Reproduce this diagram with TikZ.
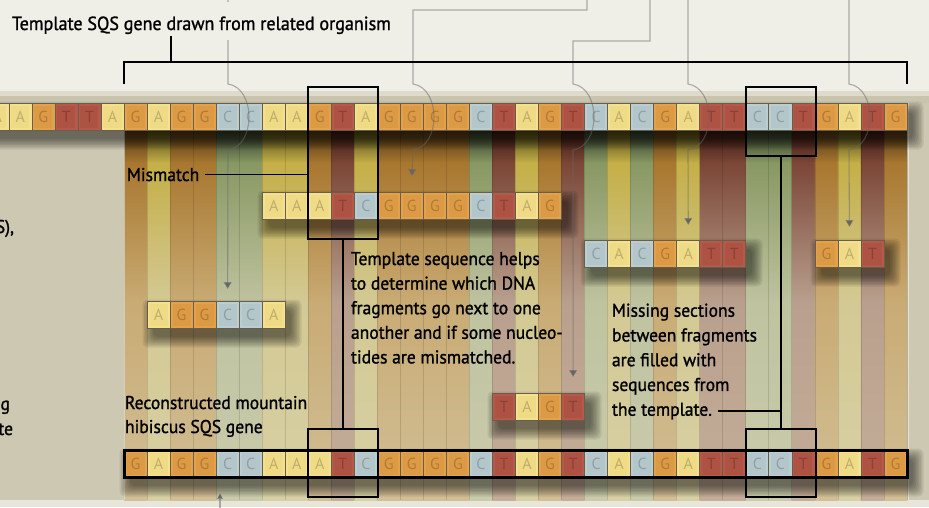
\documentclass[tikz,border=0pt]{standalone}
\usepackage{fontspec}
\setmainfont{PT Sans}[FakeStretch=0.95,FakeBold=1.2]
\newfontfamily\cellfont{PT Sans}
\usetikzlibrary{arrows.meta}
\definecolor{bgtop}{HTML}{EFEEE7}
\definecolor{shelfa}{HTML}{DEDBCC}
\definecolor{shelfb}{HTML}{C9C4AD}
\definecolor{panel}{HTML}{CDC8B1}
\definecolor{bgbot}{HTML}{E8E6DA}
\definecolor{celledge}{HTML}{6B5D4C}
\definecolor{cA}{HTML}{F3E190}\definecolor{cAi}{HTML}{EFDA86}
\definecolor{cG}{HTML}{E2A24B}\definecolor{cGi}{HTML}{DC9A44}
\definecolor{cC}{HTML}{BACDD1}\definecolor{cCi}{HTML}{B3C7CB}
\definecolor{cT}{HTML}{B5594A}\definecolor{cTi}{HTML}{AE5243}
\definecolor{sGd}{HTML}{4A3416}\definecolor{sGm}{HTML}{A8772F}\definecolor{sGp}{HTML}{C9AB74}\definecolor{sGb}{HTML}{D1BF96}
\definecolor{sAd}{HTML}{4A4418}\definecolor{sAm}{HTML}{C4AF47}\definecolor{sAp}{HTML}{D3C994}\definecolor{sAb}{HTML}{D7D0A4}
\definecolor{sCd}{HTML}{2A3526}\definecolor{sCm}{HTML}{889862}\definecolor{sCp}{HTML}{BFC3A0}\definecolor{sCb}{HTML}{CACBAB}
\definecolor{sTd}{HTML}{351A12}\definecolor{sTm}{HTML}{7B4636}\definecolor{sTp}{HTML}{B9A08E}\definecolor{sTb}{HTML}{C4AE98}
\newcommand\dnarow[4]{%
  \foreach \L [count=\i from 0] in {#4} {%
    \node[cell=\L] (#1\i) at ({124+(#2+\i)*23.03},#3) {\L};
  }%
}
\newcommand\softshadow[4]{%
  \foreach \s in {0,...,7} {%
    \fill[black, opacity=0.075, rounded corners=5pt]
      ({#1+6-\s*1.5},{#2+9-\s*1.5}) rectangle ({#3+6+\s*1.5},{#4+9+\s*1.5});
  }%
}
\begin{document}
\begin{tikzpicture}[x=1pt,y=-1pt,
  base/.style={draw=celledge, line width=0.7pt, minimum width=23.03pt, minimum height=27pt,
    inner sep=0pt, outer sep=0pt, anchor=north west, font=\cellfont\fontsize{16}{16}\selectfont,
    text=black, text opacity=0.2},
  cell/.style={base, fill=c#1, path picture={\fill[c#1i]
    ([shift={(2.5pt,-2.5pt)}]path picture bounding box.north west) rectangle
    ([shift={(-2.5pt,2.5pt)}]path picture bounding box.south east);}},
  lbl/.style={inner sep=0pt, outer sep=0pt, font=\fontsize{18.5}{24.5}\selectfont, text=black},
  gl/.style={draw=black!60, draw opacity=0.5, line width=1.1pt},
  gtip/.style={-{Triangle[width=8pt,length=7pt]}},
  blk/.style={draw=black, line width=1.5pt},
  boxn/.style={draw=black, line width=1.8pt, inner sep=0pt, outer sep=0pt, anchor=north west,
    minimum width=70pt},
]
\useasboundingbox (0,0) rectangle (929,507);
% backgrounds
\fill[bgtop] (0,0) rectangle (929,91);
\fill[shelfa] (0,91) rectangle (929,96);
\fill[shelfb] (0,96) rectangle (929,103);
\fill[panel] (0,103) rectangle (929,500);
\fill[bgbot] (0,500) rectangle (929,507);
% colour strips under the template
\foreach \L [count=\i from 0] in {G,A,G,G,C,C,A,A,G,T,A,G,G,G,G,C,T,A,G,T,C,A,C,G,A,T,T,C,C,T,G,A,T,G} {
  \pgfmathsetmacro\xa{124+\i*23.03}
  \shade[top color=s\L d, bottom color=s\L m] (\xa,130) rectangle ++(23.4,33);
  \shade[top color=s\L m, bottom color=s\L p] (\xa,162) rectangle ++(23.4,141);
  \shade[top color=s\L p, bottom color=s\L b] (\xa,302) rectangle ++(23.4,198);
}
\fill[panel] (907,103) rectangle (929,500);
\foreach \i in {0,...,34} {
  \draw[black, opacity=0.12, line width=0.8pt] ({124+\i*23.03},130) -- ({124+\i*23.03},500);
}
\draw[white, opacity=0.5, line width=0.8pt] (124,130) -- (124,500);
\draw[white, opacity=0.5, line width=0.8pt] (908,103) -- (908,500);
% shadows
\softshadow{-30}{103}{907}{130}
\softshadow{147}{301}{285}{328}
\softshadow{262}{192}{562}{219}
\softshadow{492}{393}{585}{420}
\softshadow{585}{240}{746}{267}
\softshadow{815}{240}{884}{267}
\softshadow{124}{450}{907}{477}
% rows
\dnarow{lft}{-6}{103}{A,A,G,T,T,A}
\dnarow{tp}{0}{103}{G,A,G,G,C,C,A,A,G,T,A,G,G,G,G,C,T,A,G,T,C,A,C,G,A,T,T,C,C,T,G,A,T,G}
\dnarow{fa}{1}{301}{A,G,G,C,C,A}
\dnarow{fb}{6}{192}{A,A,A,T,C,G,G,G,G,C,T,A,G}
\dnarow{fc}{16}{393}{T,A,G,T}
\dnarow{fd}{20}{240}{C,A,C,G,A,T,T}
\dnarow{fe}{30}{240}{G,A,T}
\dnarow{bt}{0}{450}{G,A,G,G,C,C,A,A,A,T,C,G,G,G,G,C,T,A,G,T,C,A,C,G,A,T,T,C,C,T,G,A,T,G}
\draw[line width=3pt] (bt0.north west) rectangle (bt33.south east);
% grey connectors from callouts above
\coordinate (ga) at (228,-3);
\coordinate (gb) at (587,-3);
\coordinate (gc) at (650,-3);
\coordinate (gd) at (688,-3);
\coordinate (ge) at (849,-3);
\coordinate (gf) at (220,512);
\draw[gl,gtip] (ga) -- (228,84) .. controls (256,88) and (256,146) .. (228,150) -- ([yshift=12pt]fa3.north);
\draw[gl,gtip] (gb) -- (587,10) -- (413,10) -- (413,84) .. controls (441,88) and (441,146) .. (413,150) -- ([yshift=16pt]fb6.north);
\draw[gl,gtip] (gc) -- (650,41) -- (573,41) -- (573,84) .. controls (601,88) and (601,146) .. (573,150) -- ([yshift=16pt]fc3.north);
\draw[gl,gtip] (gd) -- (688,84) .. controls (716,88) and (716,146) .. (688,150) -- ([yshift=15pt]fd4.north);
\draw[gl,gtip] (ge) -- (849,84) .. controls (877,88) and (877,146) .. (849,150) -- ([yshift=13pt]fe1.north);
\draw[gl,-{Triangle[width=6pt,length=6pt]}] (gf) -- (220,493);
% title and bracket
\fill[bgtop] (4,2) rectangle (402,40);
\node[lbl, anchor=base west, font=\fontsize{19}{24}\selectfont] (title) at (12,30)
  {Template SQS gene drawn from related organism};
\draw[line width=2.6pt] (124,84) -- (124,62) -- (907,62) -- (907,84);
\draw[line width=2.6pt] (171,62) -- (171,36);
% boxes
\node[boxn, minimum height=152pt] (mma) at (308,87) {};
\node[boxn, minimum height=68pt] (mmb) at (308,429) {};
\node[boxn, minimum height=69pt] (mmc) at (746,87) {};
\node[boxn, minimum height=68pt] (mmd) at (746,429) {};
\draw[blk] (mma.south) -- (mmb.north);
\draw[blk] (mmc.south) -- (mmd.north);
% labels
\node[lbl, anchor=base west] (mis) at (127,181) {Mismatch};
\draw[blk] ([xshift=6pt]mis.east) -- (mis.east -| mma.west);
\foreach \t [count=\i from 0] in {Template sequence helps,to determine which DNA,fragments go next to one,another and if some nucleo-,tides are mismatched.} {
  \node[lbl, anchor=base west] (ts\i) at (351,{265+24.6*\i}) {\t};
}
\foreach \t [count=\i from 0] in {Missing sections,between fragments,are filled with,sequences from,the template.} {
  \node[lbl, anchor=base west] (ms\i) at (612,{316.7+24.75*\i}) {\t};
}
\draw[blk] ([xshift=6pt]ms4.east) -- (ms4.east -| mmc.south);
\node[lbl, anchor=base west] (rc0) at (125,409) {Reconstructed mountain};
\node[lbl, anchor=base west] (rc1) at (125,433) {hibiscus SQS gene};
\node[lbl, anchor=base east] (lp0) at (14,233) {S),};
\node[lbl, anchor=base east] (lp1) at (10,410) {g};
\node[lbl, anchor=base east] (lp2) at (13,435) {te};
\end{tikzpicture}
\end{document}
